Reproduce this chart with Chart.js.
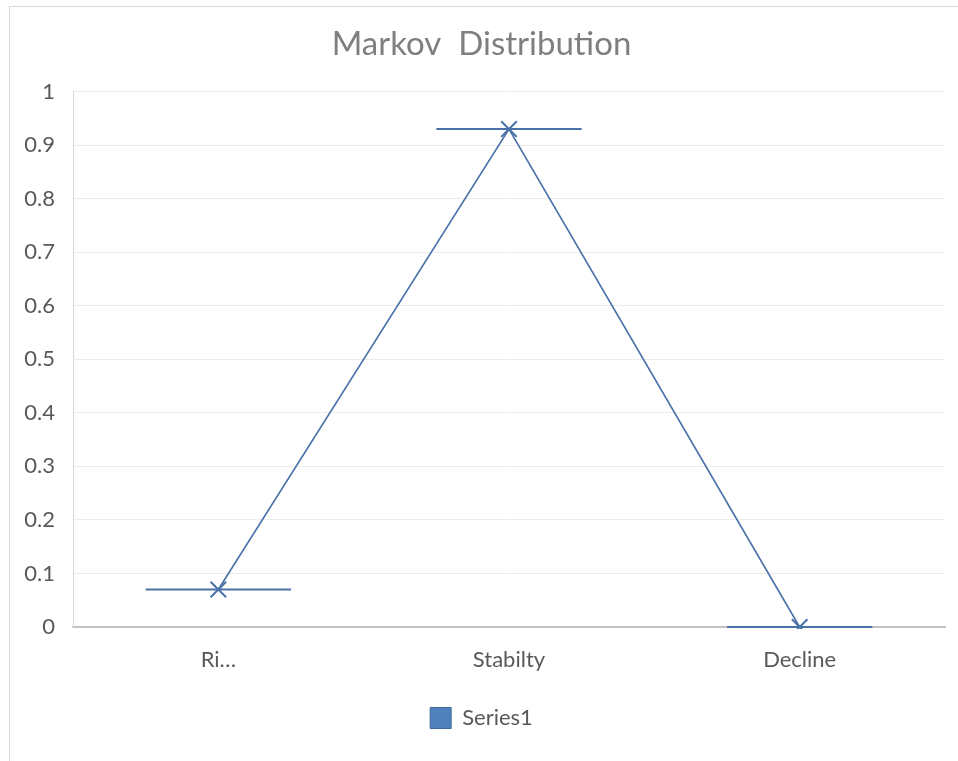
<!DOCTYPE html>
<html>
<head>
<meta charset="utf-8">
<script src="https://cdn.jsdelivr.net/npm/chart.js@4/dist/chart.umd.min.js"></script>
<style>
  html, body { margin: 0; padding: 0; background: #ffffff; overflow: hidden; }
  #frame { position: absolute; left: 9px; top: 6px; width: 960px; height: 770px; border: 1px solid #d9d9d9; }
  #wrap { position: absolute; left: 0; top: 0; width: 958px; height: 761px; }
</style>
</head>
<body>
<div id="frame"></div>
<div id="wrap"><canvas id="chart" width="958" height="761"></canvas></div>
<script>
// State labels and stationary probabilities
const categories = ['Ri…', 'Stabilty', 'Decline'];
const series1 = [0.07, 0.93, 0];
const seriesName = 'Series1';
const yTicks = [0, 0.1, 0.2, 0.3, 0.4, 0.5, 0.6, 0.7, 0.8, 0.9, 1];

const lineColor = '#4a72a9';
const FONT = 'Lato, "Open Sans", sans-serif';

// Horizontal level bar drawn across the middle half of each category slot
const levelBars = {
  id: 'levelBars',
  beforeDatasetsDraw(chart) {
    const meta = chart.getDatasetMeta(0);
    const xs = chart.scales.x;
    const half = (xs.getPixelForValue(1) - xs.getPixelForValue(0)) / 4;
    const ctx = chart.ctx;
    ctx.save();
    ctx.strokeStyle = lineColor;
    ctx.lineWidth = 2;
    meta.data.forEach((pt, i) => {
      const y = chart.scales.y.getPixelForValue(series1[i]);
      ctx.beginPath();
      ctx.moveTo(pt.x - half, y);
      ctx.lineTo(pt.x + half, y);
      ctx.stroke();
    });
    ctx.restore();
  }
};

new Chart(document.getElementById('chart'), {
  type: 'line',
  data: {
    labels: categories,
    datasets: [{
      label: seriesName,
      data: series1,
      borderColor: lineColor,
      backgroundColor: '#4f81bd',
      borderWidth: 1.6,
      tension: 0,
      pointStyle: 'crossRot',
      pointRadius: 11,
      pointBorderWidth: 2,
      pointBorderColor: lineColor,
      clip: 2
    }]
  },
  options: {
    responsive: false,
    animation: false,
    layout: { padding: { left: 10, right: 5, top: 0, bottom: 22 } },
    plugins: {
      title: {
        display: true,
        text: 'Markov  Distribution',
        color: '#7f7f7f',
        font: { family: FONT, size: 33, weight: 'normal' },
        padding: { top: 25, bottom: 27 }
      },
      legend: {
        display: true,
        position: 'bottom',
        labels: {
          color: '#595959',
          font: { family: FONT, size: 22 },
          boxWidth: 21,
          boxHeight: 21,
          padding: 10,
          generateLabels: () => [{
            text: seriesName,
            fillStyle: '#4f81bd',
            strokeStyle: '#41699a',
            lineWidth: 1,
            fontColor: '#595959',
            datasetIndex: 0
          }]
        }
      },
      tooltip: { enabled: false }
    },
    scales: {
      x: {
        z: 1,
        offset: true,
        grid: { display: false, drawTicks: false, offset: true },
        border: { display: true, color: '#c3c3c3', width: 2 },
        ticks: { color: '#595959', font: { family: FONT, size: 22 }, padding: 20 },
        afterFit: (s) => { s.height = 70; }
      },
      y: {
        min: 0,
        max: 1,
        afterBuildTicks: (s) => { s.ticks = yTicks.map(v => ({ value: v })); },
        grid: { color: '#ececec', lineWidth: 1, drawTicks: false },
        border: { display: true, color: '#d9d9d9', width: 1 },
        ticks: {
          color: '#595959',
          font: { family: FONT, size: 22 },
          padding: 18,
          callback: (v) => String(+Number(v).toFixed(1))
        },
        afterFit: (s) => { s.width = 63; }
      }
    }
  },
  plugins: [levelBars]
});
</script>
</body>
</html>
